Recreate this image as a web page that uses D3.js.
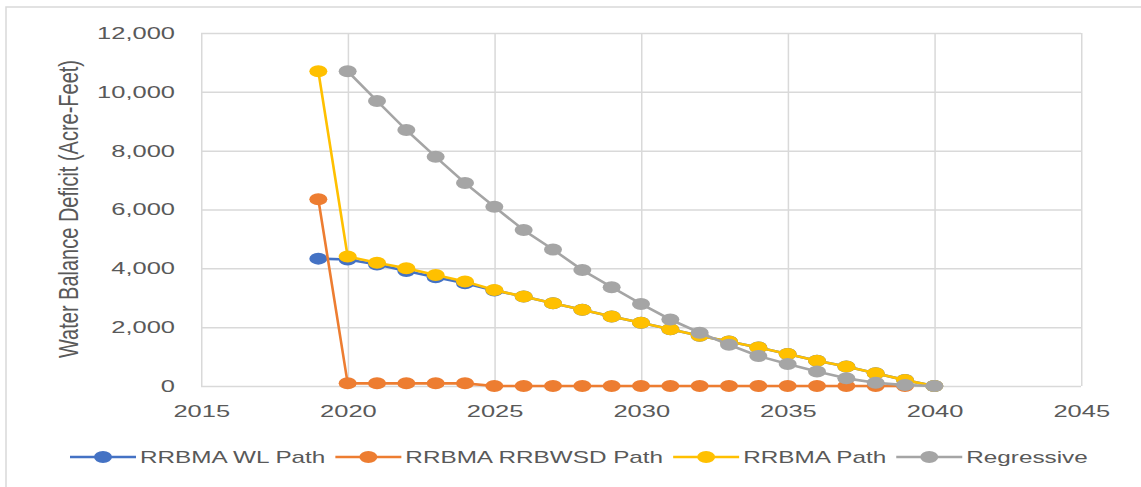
<!DOCTYPE html>
<html>
<head>
<meta charset="utf-8">
<script src="https://cdn.jsdelivr.net/npm/d3@7"></script>
<style>
  body { margin: 0; background: #fff; }
  svg { display: block; font-family: "Liberation Sans", Arial, sans-serif; }
</style>
</head>
<body>
<div id="chart"></div>
<script>
const years = d3.range(2019, 2041);
const wlPath = [4330, 4300, 4130, 3910, 3700, 3490, 3250, 3040, 2810, 2590, 2360, 2150, 1930, 1710, 1510, 1310, 1090, 860, 660, 430, 200, 0];
const rrbwsdPath = [6350, 90, 90, 90, 90, 90, 0, 0, 0, 0, 0, 0, 0, 0, 0, 0, 0, 0, 0, 0, 0];
const rrbmaPath = [10700, 4400, 4190, 4000, 3770, 3550, 3260, 3040, 2810, 2590, 2360, 2150, 1930, 1710, 1510, 1310, 1090, 860, 660, 430, 200, 0];
const regressiveYears = d3.range(2020, 2041);
const regressive = [10700, 9690, 8700, 7790, 6900, 6090, 5300, 4640, 3940, 3360, 2790, 2260, 1810, 1400, 1020, 750, 490, 260, 110, 30, 0];
const xTicks = [2015, 2020, 2025, 2030, 2035, 2040, 2045];
const yTicks = [0, 2000, 4000, 6000, 8000, 10000, 12000];
const seriesNames = ["RRBMA WL Path", "RRBMA RRBWSD Path", "RRBMA Path", "Regressive"];
const seriesColors = ["#4472C4", "#ED7D31", "#FFC000", "#A5A5A5"];

const W = 1141, H = 487;
const sx = 1.5; // the original picture is stretched horizontally
const vw = W / sx;

const series = [
  { name: seriesNames[0], color: seriesColors[0], pts: years.map((yr, i) => [yr, wlPath[i]]) },
  { name: seriesNames[1], color: seriesColors[1], pts: years.slice(0, rrbwsdPath.length).map((yr, i) => [yr, rrbwsdPath[i]]) },
  { name: seriesNames[2], color: seriesColors[2], pts: years.map((yr, i) => [yr, rrbmaPath[i]]) },
  { name: seriesNames[3], color: seriesColors[3], pts: regressiveYears.map((yr, i) => [yr, regressive[i]]) }
];

const svg = d3.select("#chart").append("svg")
  .attr("width", W).attr("height", H)
  .attr("viewBox", [0, 0, vw, H])
  .attr("preserveAspectRatio", "none");

svg.append("rect")
  .attr("x", 6 / sx).attr("y", 7)
  .attr("width", vw).attr("height", H)
  .attr("fill", "none").attr("stroke", "#d9d9d9")
  .attr("stroke-width", 1.5).attr("vector-effect", "non-scaling-stroke");

const x = d3.scaleLinear().domain([2015, 2045]).range([201 / sx, 1081 / sx]);
const y = d3.scaleLinear().domain([0, 12000]).range([386, 33]);

// grid
const gridY = svg.append("g").attr("transform", `translate(${x.range()[0]},0)`)
  .call(d3.axisLeft(y).tickValues(yTicks).tickSize(-(x.range()[1] - x.range()[0])).tickFormat(""));
const gridX = svg.append("g").attr("transform", `translate(0,${y(0)})`)
  .call(d3.axisBottom(x).tickValues(xTicks).tickSize(-(y(0) - y(12000))).tickFormat(""));
[gridX, gridY].forEach(g => {
  g.select(".domain").remove();
  g.selectAll("line").attr("stroke", "#d9d9d9").attr("stroke-width", 1.5)
    .attr("vector-effect", "non-scaling-stroke");
});

// tick labels
const yAxis = svg.append("g").attr("transform", `translate(${x.range()[0]},0)`)
  .call(d3.axisLeft(y).tickValues(yTicks).tickSize(0).tickPadding(26 / sx).tickFormat(d3.format(",")));
const xAxis = svg.append("g").attr("transform", `translate(0,${y(0)})`)
  .call(d3.axisBottom(x).tickValues(xTicks).tickSize(0).tickPadding(19).tickFormat(d3.format("d")));
[xAxis, yAxis].forEach(g => {
  g.select(".domain").remove();
  g.selectAll("text").attr("fill", "#595959").style("font-size", "17px")
    .style("font-family", "'Liberation Sans', Arial, sans-serif");
});

svg.append("text")
  .attr("transform", `translate(${68.5 / sx},209) rotate(-90)`)
  .attr("text-anchor", "middle").attr("dy", "0.35em")
  .attr("fill", "#595959").style("font-size", "18px")
  .attr("textLength", 298).attr("lengthAdjust", "spacingAndGlyphs")
  .text("Water Balance Deficit (Acre-Feet)");

// lines
const line = d3.line().x(d => x(d[0])).y(d => y(d[1]));

const gs = svg.append("g").selectAll("g").data(series).join("g");
gs.append("path")
  .attr("d", d => line(d.pts))
  .attr("fill", "none").attr("stroke", d => d.color)
  .attr("stroke-width", 2.6).attr("vector-effect", "non-scaling-stroke")
  .attr("stroke-linejoin", "round");
gs.selectAll("circle").data(d => d.pts.map(p => ({ p, color: d.color }))).join("circle")
  .attr("cx", d => x(d.p[0])).attr("cy", d => y(d.p[1]))
  .attr("r", 6).attr("fill", d => d.color);

// legend
const legY = 457;
const leg = svg.append("g");
let lx = 70 / sx;
series.forEach(s => {
  const g = leg.append("g");
  g.append("line").attr("x1", lx).attr("x2", lx + 66 / sx).attr("y1", legY).attr("y2", legY)
    .attr("stroke", s.color).attr("stroke-width", 2.6).attr("vector-effect", "non-scaling-stroke");
  g.append("circle").attr("cx", lx + 33 / sx).attr("cy", legY).attr("r", 6).attr("fill", s.color);
  const t = g.append("text").attr("x", lx + 70 / sx).attr("y", legY).attr("dy", "0.35em")
    .attr("fill", "#595959").style("font-size", "16.2px").text(s.name);
  lx += 70 / sx + t.node().getComputedTextLength() + 10 / sx;
});
</script>
</body>
</html>
